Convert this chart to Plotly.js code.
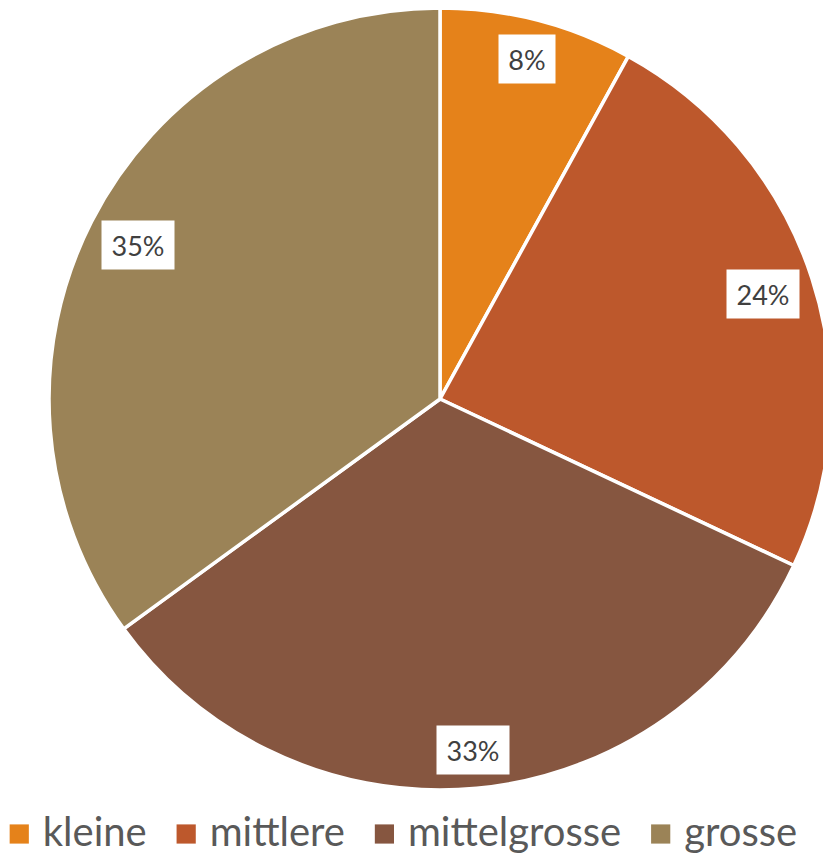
<!DOCTYPE html>
<html>
<head>
<meta charset="utf-8">
<script src="https://cdn.plot.ly/plotly-3.0.1.min.js"></script>
<style>
html, body { margin: 0; padding: 0; overflow: hidden; background: #fff; }
#chart { width: 840px; height: 854px; }
</style>
</head>
<body>
<div id="chart"></div>
<script>
// Data
const categories = ["kleine", "mittlere", "mittelgrosse", "grosse"];
const shares = [8, 24, 33, 35];
const colors = ["#E5821A", "#BD582C", "#865640", "#9B8357"];

// Geometry / style
const W = 840, H = 854;
const cx = 440, cy = 399, R = 391;
const FONT = 'Lato, "DejaVu Sans Condensed", sans-serif';
const LABEL_SIZE = 27, LEGEND_SIZE = 40;
const EXTRA = 18, TEXT_SHIFT = -16.5, TEXT_RAISE = 4;

const total = shares.reduce((a, b) => a + b, 0);
const labels = shares.map(v => Math.round(v / total * 100) + "%");

function draw() {
  // label boxes placed as far out as fits inside the circle
  const boxH = 48, pad = 9;
  const annotations = [];
  let cum = 0;
  shares.forEach((v, i) => {
    const mid = (cum + v / 2) / total * 2 * Math.PI;
    cum += v;
    const txt = labels[i];
    const boxW = 24 + 16 * txt.length;
    let best = 0;
    for (let t = 0; t <= R; t += 0.5) {
      const x = cx + t * Math.sin(mid), y = cy - t * Math.cos(mid);
      let ok = true;
      for (const dx of [-boxW / 2, boxW / 2]) for (const dy of [-boxH / 2, boxH / 2]) {
        if (Math.hypot(x + dx - cx, y + dy - cy) > R - pad) ok = false;
      }
      if (ok) best = t;
    }
    const px = cx + best * Math.sin(mid), py = cy - best * Math.cos(mid);
    annotations.push({
      xref: "paper", yref: "paper",
      x: px / W, y: 1 - py / H,
      xanchor: "center", yanchor: "middle",
      text: txt, showarrow: false,
      width: boxW, height: boxH, align: "center", valign: "middle",
      bgcolor: "#ffffff", borderpad: 0,
      font: { family: FONT, size: LABEL_SIZE, color: "#404040" }
    });
  });

  const trace = {
    type: "pie",
    labels: categories,
    values: shares,
    sort: false,
    direction: "clockwise",
    rotation: 0,
    textinfo: "none",
    hoverinfo: "label+percent",
    marker: { colors: colors, line: { color: "#ffffff", width: 3.5 } },
    domain: { x: [(cx - R) / W, (cx + R) / W], y: [1 - (cy + R) / H, 1 - (cy - R) / H] }
  };

  const layout = {
    width: W, height: H,
    margin: { l: 0, r: 0, t: 0, b: 0, autoexpand: false },
    paper_bgcolor: "#ffffff",
    showlegend: true,
    legend: {
      orientation: "h", x: 411 / W, xanchor: "center", y: 1 - 834 / H, yanchor: "middle",
      font: { family: FONT, size: LEGEND_SIZE, color: "#595959" },
      itemclick: false
    },
    annotations: annotations
  };

  Plotly.newPlot("chart", [trace], layout, { displayModeBar: false, staticPlot: true }).then(gd => {
    const items = gd.querySelectorAll(".legend .traces");
    const n = items.length;
    items.forEach((g, i) => {
      const m = /translate\(\s*([-\d.e]+)[ ,]+([-\d.e]+)\s*\)/.exec(g.getAttribute("transform") || "");
      if (m) g.setAttribute("transform", "translate(" + (+m[1] + (i - (n - 1) / 2) * EXTRA - TEXT_SHIFT / 2) + "," + m[2] + ")");
      g.querySelectorAll(".legendpoints path").forEach(p => {
        p.setAttribute("transform", "scale(1.6)");
        p.style.strokeWidth = "0";
      });
      const t = g.querySelector("text.legendtext");
      if (t) {
        t.setAttribute("x", (+t.getAttribute("x") + TEXT_SHIFT));
        t.setAttribute("transform", "translate(0," + (-TEXT_RAISE) + ")");
      }
    });
    gd.querySelectorAll(".legend").forEach(l => l.removeAttribute("clip-path"));
    gd.querySelectorAll(".legend .scrollbox").forEach(l => l.removeAttribute("clip-path"));
  });
}

const fontsReady = (document.fonts && document.fonts.load)
  ? Promise.all([
      document.fonts.load(LEGEND_SIZE + "px Lato"),
      document.fonts.load(LABEL_SIZE + "px Lato")
    ]).catch(() => null)
  : Promise.resolve();
fontsReady.then(draw);
</script>
</body>
</html>
